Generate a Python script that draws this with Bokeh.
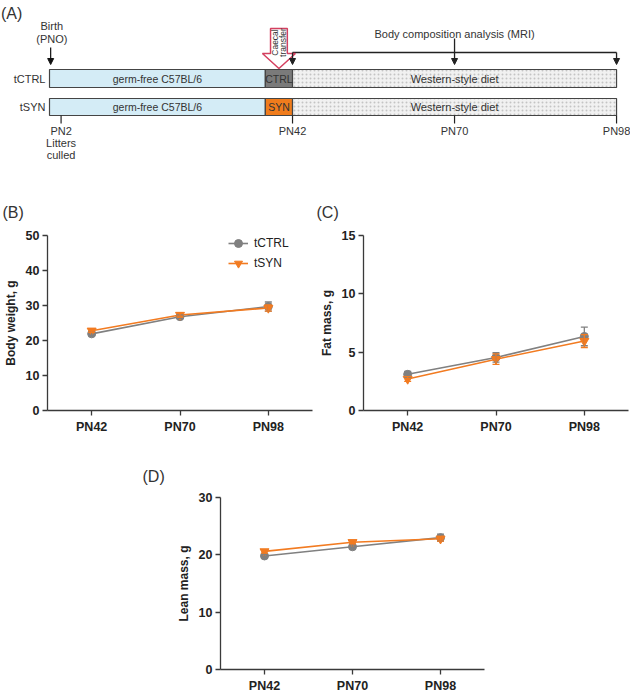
import math
from bokeh.plotting import figure
from bokeh.models import (Range1d, FactorRange, Whisker, TeeHead, ColumnDataSource, Legend,
                          LegendItem, Spacer, FixedTicker, Arrow, NormalHead)
from bokeh.layouts import column, row
from bokeh.core.properties import value
from bokeh.embed import file_html
from bokeh.resources import INLINE

# ---------------- data ----------------
timepoints = ["PN42", "PN70", "PN98"]
groups = ["tCTRL", "tSYN"]

bw_ctrl = [21.9, 26.8, 29.7]
bw_ctrl_err = [0.4, 0.5, 1.3]
bw_syn = [22.8, 27.3, 29.3]
bw_syn_err = [0.5, 0.6, 0.9]

fat_ctrl = [3.1, 4.55, 6.35]
fat_ctrl_err = [0.25, 0.4, 0.8]
fat_syn = [2.7, 4.4, 5.95]
fat_syn_err = [0.2, 0.45, 0.55]

lean_ctrl = [19.8, 21.4, 23.0]
lean_ctrl_err = [0.3, 0.35, 0.6]
lean_syn = [20.6, 22.2, 22.8]
lean_syn_err = [0.3, 0.3, 0.4]

# timeline (days)
birth_day = 0
transfer_start = 37.3
transfer_day = 42
end_day = 98
mri_days = [42, 70, 98]
timeline_days = [2, 42, 70, 98]
timeline_labels = ["PN2", "PN42", "PN70", "PN98"]
phase_labels = ["germ-free C57BL/6", "Western-style diet"]
transfer_labels = ["CTRL", "SYN"]

FONT = "Liberation Sans"
GREY = "#808080"
ORANGE = "#f27b21"
TXT = "#333333"
EDGE = "#444444"

# ---------------- panel A ----------------
pa = figure(width=630, height=165, x_range=Range1d(-8.47, 100.41), y_range=Range1d(165, 0),
            output_backend="svg", toolbar_location=None, min_border=0,
            x_axis_type=None, y_axis_type=None)
pa.grid.visible = False
pa.outline_line_color = None

row_top = [69, 98]
row_bot = [87, 115]
row_mid = [(a + b) / 2 for a, b in zip(row_top, row_bot)]

pa.quad(left=[birth_day] * 2, right=[transfer_start] * 2, top=row_top, bottom=row_bot,
        fill_color="#d4ecf6", line_color=EDGE, line_width=1.2)
pa.quad(left=[transfer_start] * 2, right=[transfer_day] * 2, top=row_top, bottom=row_bot,
        fill_color=["#7a7a7a", "#f07c1c"], line_color=EDGE, line_width=1.2)
pa.quad(left=[transfer_day] * 2, right=[end_day] * 2, top=row_top, bottom=row_bot,
        fill_color="#f1f1f1", hatch_pattern="dot", hatch_color="#c4c4c4", hatch_scale=4,
        hatch_weight=1, line_color=EDGE, line_width=1.2)

tfont = value(FONT)
mid_gf = (birth_day + transfer_start) / 2
mid_tr = (transfer_start + transfer_day) / 2
mid_w = (transfer_day + end_day) / 2
pa.text(x=[mid_gf] * 2, y=row_mid, text=[phase_labels[0]] * 2, text_font=tfont,
        text_font_size="10.5px", text_align="center", text_baseline="middle", text_color=TXT)
pa.text(x=[mid_w] * 2, y=row_mid, text=[phase_labels[1]] * 2, text_font=tfont,
        text_font_size="11px", text_align="center", text_baseline="middle", text_color=TXT)
pa.text(x=[mid_tr] * 2, y=row_mid, text=transfer_labels, text_font=tfont,
        text_font_size="10.5px", text_align="center", text_baseline="middle", text_color=TXT)
pa.text(x=[-0.7] * 2, y=row_mid, text=groups, text_font=tfont, text_font_size="11px",
        text_align="right", text_baseline="middle", text_color=TXT)

# (A)
pa.text(x=[-8.4], y=[13], text=["(A)"], text_font=tfont, text_font_size="16px",
        text_align="left", text_baseline="middle", text_color=TXT)
# Birth
pa.text(x=[birth_day + 0.4] * 2, y=[25, 38], text=["Birth", "(PNO)"], text_font=tfont,
        text_font_size="11px", text_align="center", text_baseline="middle", text_color=TXT)
pa.add_layout(Arrow(x_start=birth_day + 0.2, y_start=47, x_end=birth_day + 0.2, y_end=64,
                    line_width=1.2, line_color="#111",
                    end=NormalHead(size=6, fill_color="#111", line_color="#111")))

# timeline ticks and labels
pa.segment(x0=timeline_days, y0=[115] * 4, x1=timeline_days, y1=[123] * 4,
           line_color="#222", line_width=1.2)
pa.text(x=timeline_days, y=[130] * 4, text=timeline_labels, text_font=tfont,
        text_font_size="11px", text_align="center", text_baseline="middle", text_color=TXT)
pa.text(x=[timeline_days[0]] * 2, y=[142, 154], text=["Litters", "culled"], text_font=tfont,
        text_font_size="11px", text_align="center", text_baseline="middle", text_color=TXT)

# MRI bracket
pa.segment(x0=[mri_days[0]], y0=[52], x1=[mri_days[-1]], y1=[52], line_color="#222", line_width=1.3)
for dday, ys in zip(mri_days, [52, 38, 52]):
    pa.add_layout(Arrow(x_start=dday, y_start=ys, x_end=dday, y_end=64, line_width=1.3,
                        line_color="#222",
                        end=NormalHead(size=6, fill_color="#222", line_color="#222")))
pa.text(x=[mri_days[1]], y=[33], text=["Body composition analysis (MRI)"], text_font=tfont,
        text_font_size="11px", text_align="center", text_baseline="middle", text_color=TXT)

# caecal transfer arrow
c = mid_tr
sw, hw = 1.45, 2.85
pa.patch(x=[c - sw, c + sw, c + sw, c + hw, c, c - hw, c - sw],
         y=[28, 28, 53, 53, 68, 53, 53],
         fill_color="white", line_color="#d4405f", line_width=1.5)
pa.text(x=[c - 0.75, c + 0.75], y=[42, 42], text=["Caecal", "transfer"], angle=math.pi / 2,
        text_font=tfont, text_font_size="8.5px", text_align="center", text_baseline="middle",
        text_color=TXT)


# ---------------- panels B, C, D ----------------
def make_panel(width, height, bl, br, bt, bb, ymax, yticks, ylabel, ctrl, ctrl_err, syn, syn_err,
               letter, title_gap, legend=False):
    p = figure(width=width, height=height, x_range=FactorRange(*timepoints, range_padding=0),
               y_range=Range1d(0, ymax), output_backend="svg", toolbar_location=None,
               min_border_left=bl, min_border_right=br, min_border_top=bt, min_border_bottom=bb)
    p.grid.visible = False
    p.outline_line_color = None
    for ax in p.axis:
        ax.axis_line_color = "#3a3a3a"
        ax.axis_line_width = 1.3
        ax.major_tick_line_color = "#3a3a3a"
        ax.major_tick_line_width = 1.3
        ax.major_tick_out = 5
        ax.major_tick_in = 0
        ax.minor_tick_line_color = None
        ax.major_label_text_font = FONT
        ax.major_label_text_font_style = "bold"
        ax.major_label_text_font_size = "12.5px"
        ax.major_label_text_color = "#222"
    p.xaxis.major_label_standoff = 4
    p.yaxis.major_label_standoff = 3
    p.yaxis.ticker = FixedTicker(ticks=yticks)
    p.yaxis.axis_label = ylabel
    p.yaxis.axis_label_text_font = FONT
    p.yaxis.axis_label_text_font_style = "bold"
    p.yaxis.axis_label_text_font_size = "12px"
    p.yaxis.axis_label_text_color = "#222"
    p.yaxis.axis_label_standoff = 5

    p.title.text = letter
    p.title.align = "left"
    p.title.offset = -(bl - 2)
    p.title.standoff = title_gap
    p.title.text_font = FONT
    p.title.text_font_style = "normal"
    p.title.text_font_size = "16px"
    p.title.text_color = TXT

    items = []
    for name, vals, errs, color, marker, size in [
        (groups[0], ctrl, ctrl_err, GREY, "circle", 8),
        (groups[1], syn, syn_err, ORANGE, "inverted_triangle", 9),
    ]:
        src = ColumnDataSource(dict(x=timepoints, y=vals,
                                    upper=[v + e for v, e in zip(vals, errs)],
                                    lower=[v - e for v, e in zip(vals, errs)]))
        p.add_layout(Whisker(base="x", upper="upper", lower="lower", source=src,
                             line_color=color, line_width=1.3, level="glyph",
                             upper_head=TeeHead(size=7, line_color=color, line_width=1.3),
                             lower_head=TeeHead(size=7, line_color=color, line_width=1.3)))
        lr = p.line("x", "y", source=src, line_color=color, line_width=1.6)
        sr = p.scatter("x", "y", source=src, marker=marker, size=size, fill_color=color,
                       line_color=color)
        items.append(LegendItem(label=name, renderers=[lr, sr]))
    if legend:
        lg = Legend(items=items, location=(181, 137), padding=0, margin=0, spacing=0,
                    label_height=20, glyph_height=20, glyph_width=20, label_standoff=6,
                    label_text_font=FONT, label_text_font_size="12px",
                    label_text_color="#222", background_fill_alpha=0, border_line_color=None)
        p.add_layout(lg)
    return p


pb = make_panel(314, 275, 47, 2, 70, 30, 50, [0, 10, 20, 30, 40, 50], "Body weight, g",
                bw_ctrl, bw_ctrl_err, bw_syn, bw_syn_err, "(B)", 30, legend=True)
pc = make_panel(316, 275, 49, 2, 70, 30, 15, [0, 5, 10, 15], "Fat mass, g",
                fat_ctrl, fat_ctrl_err, fat_syn, fat_syn_err, "(C)", 30)
pd = make_panel(354, 255, 80, 10, 57, 23, 30, [0, 10, 20, 30], "Lean mass, g",
                lean_ctrl, lean_ctrl_err, lean_syn, lean_syn_err, "(D)", 25)

layout = column(pa, row(pb, pc), row(Spacer(width=140, height=255), pd))
open("out.html", "w").write(file_html(layout, INLINE))
